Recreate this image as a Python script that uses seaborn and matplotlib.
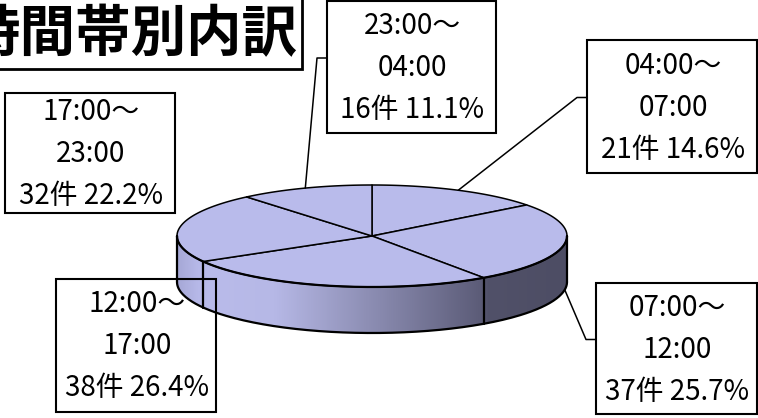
import numpy as np
import matplotlib
matplotlib.use("Agg")
import matplotlib.pyplot as plt
import seaborn as sns
from matplotlib.patches import Polygon, Rectangle
from matplotlib.colors import LinearSegmentedColormap

# data (clockwise from 12 o'clock)
starts = ["04:00", "07:00", "12:00", "17:00", "23:00"]
ends = ["07:00", "12:00", "17:00", "23:00", "04:00"]
counts = [21, 37, 38, 32, 16]
title = "時間帯別内訳"

sns.set_theme(style="white")
plt.rcParams["font.family"] = ["Noto Sans CJK JP", "DejaVu Sans"]

fig = plt.figure(figsize=(7.58, 4.18), dpi=100)
ax = fig.add_axes([0, 0, 1, 1])

# pie geometry (pixels)
cx, cy, rx, ry, depth = 372, 236, 195, 51, 46
top_col = "#B9BBEB"


def rim(t, drop=0):
    t = np.radians(np.atleast_1d(t))
    return np.column_stack([cx + rx * np.cos(t), cy - ry * np.sin(t) + drop])


vals = np.array(counts, dtype=float)
share = vals / vals.sum()
edges = 90 - 360 * np.concatenate([[0], np.cumsum(share)])

# side gradient, light on the left, dark on the right
side_cmap = LinearSegmentedColormap.from_list(
    "side",
    [(0.0, "#A6A8D6"), (0.05, "#B6B8E8"), (0.09, "#B9BBEA"),
     (0.25, "#B6B8E6"), (0.78, "#5C5C78"), (0.8, "#515169"), (1.0, "#4D4D64")])
grad = np.linspace(0, 1, 500)[None, :]

for a, b in zip(edges[:-1], edges[1:]):
    hi, lo = min(a, 0), max(b, -180)
    if lo >= hi:
        continue
    top = rim(np.linspace(hi, lo, 80))
    bot = rim(np.linspace(lo, hi, 80), depth)
    poly = Polygon(np.vstack([top, bot]), closed=True, fc="none", ec="none")
    ax.add_patch(poly)
    im = ax.imshow(grad, cmap=side_cmap, extent=(cx - rx, cx + rx, cy + ry + depth + 5, cy - ry),
                   aspect="auto", zorder=1, interpolation="bilinear")
    im.set_clip_path(poly)

# side outlines
arc = rim(np.linspace(-180, 0, 200), depth)
ax.plot(arc[:, 0], arc[:, 1], color="black", lw=1.6, zorder=3)
for t in [180, 0] + [e for e in edges if -180 < e < 0]:
    p0, p1 = rim(t)[0], rim(t, depth)[0]
    ax.plot([p0[0], p1[0]], [p0[1], p1[1]], color="black", lw=1.6, zorder=3)

# top face
for a, b in zip(edges[:-1], edges[1:]):
    pts = np.vstack([[cx, cy], rim(np.linspace(a, b, 100))])
    ax.add_patch(Polygon(pts, closed=True, fc=top_col, ec="black", lw=1.1,
                         joinstyle="round", zorder=2))
front = rim(np.linspace(-180, 0, 200))
ax.plot(front[:, 0], front[:, 1], color="black", lw=1.6, zorder=3)

# label boxes (x0, y0, x1, y1) and leader elbows
boxes = [(587, 40, 757, 173), (596, 283, 757, 414), (56, 279, 216, 412),
         (5, 93, 175, 213), (327, 1, 496, 133)]
leaders = {0: "left", 1: "left", 4: "left"}

for i, (s, e, n) in enumerate(zip(starts, ends, counts)):
    x0, y0, x1, y1 = boxes[i]
    ax.add_patch(Rectangle((x0, y0), x1 - x0, y1 - y0, fc="none", ec="black",
                           lw=1.5, zorder=5))
    lines = [f"{s}～", e, f"{n}件 {share[i] * 100:.1f}%"]
    xm, ym = (x0 + x1) / 2 + 1, (y0 + y1) / 2 + 1
    for k, txt in enumerate(lines):
        ax.text(xm, ym + (k - 1) * 42, txt, ha="center", va="center",
                fontsize=20, color="black", zorder=6)
    if i in leaders:
        mid = (edges[i] + edges[i + 1]) / 2
        drop = depth if np.sin(np.radians(mid)) < 0.3 else 0
        ax_pt = rim(mid, drop)[0]
        ey = ym - 10
        ax.plot([x0, x0 - 10, ax_pt[0]], [ey, ey, ax_pt[1]], color="black",
                lw=1.1, zorder=4)

# title
ax.add_patch(Rectangle((-5, -5), 307, 74, fc="white", ec="black", lw=2, zorder=5))
ax.text(297, 35, title, ha="right", va="center", fontsize=40, fontweight="bold",
        color="black", zorder=6)

ax.set_xlim(0, 758)
ax.set_ylim(418, 0)
ax.axis("off")
fig.savefig("out.png", dpi=100, facecolor="white")
